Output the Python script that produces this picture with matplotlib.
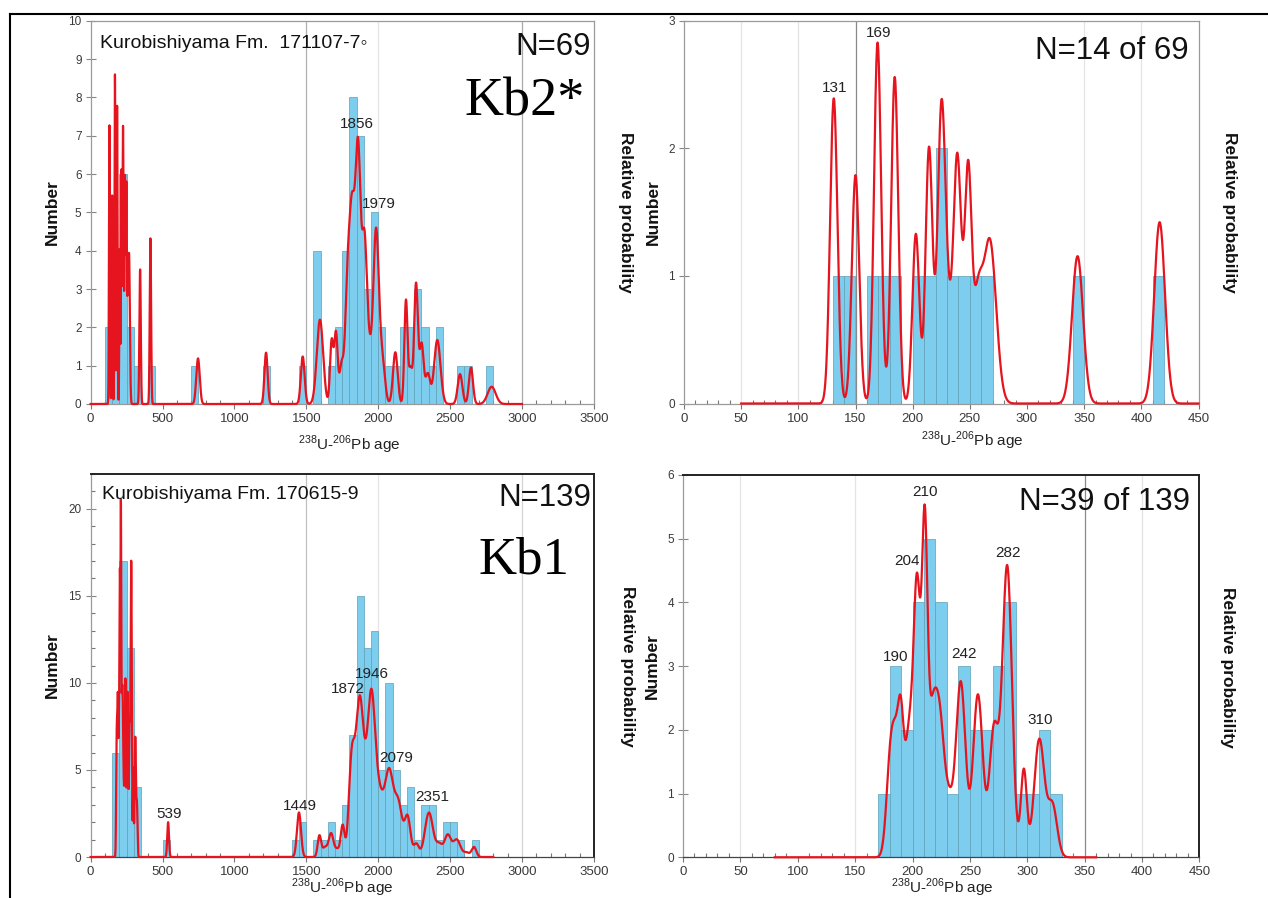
import numpy as np
import matplotlib
matplotlib.use("Agg")
import matplotlib.pyplot as plt
from matplotlib.ticker import MultipleLocator
from matplotlib.lines import Line2D

plt.rcParams['font.family'] = ['Liberation Sans', 'DejaVu Sans']
plt.rcParams['mathtext.fontset'] = 'custom'
plt.rcParams['mathtext.rm'] = 'Liberation Sans'

# ---------------- DATA ----------------
# Sample 171107-7 (Kb2*) : histogram, 50 Ma bins
kb2_bin_left = [100, 150, 200, 250, 300, 400, 700, 1200, 1450, 1550, 1650, 1700,
                1750, 1800, 1850, 1900, 1950, 2000, 2050, 2100, 2150, 2200, 2250,
                2300, 2350, 2400, 2550, 2600, 2750]
kb2_counts = [2, 2, 6, 2, 1, 1, 1, 1, 1, 4, 1, 2, 4, 8, 7, 3, 5, 2, 1, 1, 2, 2, 3,
              2, 1, 2, 1, 1, 1]
# young grains, 10 Ma bins
kb2_young_bin_left = [130, 140, 160, 170, 180, 200, 210, 220, 230, 240, 250, 260, 340, 410]
kb2_young_counts = [1, 1, 1, 1, 1, 1, 1, 2, 1, 1, 1, 1, 1, 1]
# probability density components (age, width, height)
kb2_pdp_age = [131, 150, 169.3, 184.3, 202.8, 214.3, 225.2, 231, 239, 248.5, 257, 267.5,
               344.2, 416, 747, 1220, 1475, 1595, 1676, 1706, 1745, 1785, 1818, 1860,
               1905, 1940, 1985, 2030, 2119, 2193, 2225, 2263, 2302, 2345, 2411, 2569,
               2645, 2789]
kb2_pdp_sigma = [3.2, 3.2, 3.1, 3.1, 3.0, 3.0, 3.4, 3.0, 3.5, 3.0, 4.0, 5.5,
                 4.8, 4.7, 12, 11, 13, 22, 11, 12, 14, 16, 19, 18,
                 18, 15, 20, 18, 16, 11, 12, 13, 14, 16, 22, 16,
                 14, 28]
kb2_pdp_height = [7.27, 5.44, 8.6, 7.78, 4.04, 6.08, 7.02, 1.37, 5.9, 5.41, 2.28, 3.86,
                  3.51, 4.32, 1.19, 1.34, 1.24, 2.2, 1.62, 1.85, 1.0, 2.6, 4.8, 6.35,
                  4.2, 0.9, 4.55, 1.0, 1.35, 2.7, 0.9, 3.13, 1.55, 0.78, 1.67, 0.78,
                  0.95, 0.45]
kb2_peak_labels = ["1856", "1979"]
kb2_young_peak_labels = ["131", "169"]

# Sample 170615-9 (Kb1) : histogram, 50 Ma bins
kb1_bin_left = [150, 200, 250, 300, 500, 1400, 1450, 1550, 1600, 1650, 1700, 1750,
                1800, 1850, 1900, 1950, 2000, 2050, 2100, 2150, 2200, 2250, 2300,
                2350, 2400, 2450, 2500, 2550, 2650]
kb1_counts = [6, 17, 12, 4, 1, 1, 2, 1, 1, 2, 1, 3, 7, 15, 12, 13, 5, 10, 5, 3, 4, 1,
              3, 3, 1, 2, 2, 1, 1]
kb1_young_bin_left = [170, 180, 190, 200, 210, 220, 230, 240, 250, 260, 270, 280,
                      290, 300, 310, 320]
kb1_young_counts = [1, 3, 2, 4, 5, 4, 1, 3, 2, 2, 3, 4, 1, 1, 2, 1]
kb1_pdp_age = [181, 186, 190, 197, 204, 210.6, 217, 224, 232, 242, 257, 271, 282.5,
               297, 310.5, 322, 539, 1449, 1591, 1630, 1672, 1715, 1753, 1815, 1872,
               1915, 1950, 2005, 2077, 2140, 2205, 2265, 2353, 2425, 2483, 2546,
               2615, 2666]
kb1_pdp_sigma = [3.5, 3.0, 2.5, 3.5, 3.0, 2.4, 4.0, 4.0, 3.5, 4.2, 4.2, 4.0, 4.2,
                 2.6, 4.5, 4.0, 6, 14, 12, 18, 16, 20, 13, 20, 28,
                 15, 26, 35, 28, 28, 20, 18, 28, 22, 22, 26,
                 20, 16]
kb1_pdp_height = [5.94, 4.45, 6.31, 7.05, 15.2, 17.1, 7.42, 7.05, 2.6, 10.2, 9.46,
                  7.42, 16.9, 5.05, 6.86, 2.97, 2.0, 2.56, 1.2, 0.55, 1.3, 0.45, 1.75,
                  5.1, 9.1, 0.55, 8.4, 3.5, 4.45, 3.0, 2.2, 0.75, 2.55, 0.7, 1.23,
                  1.0, 0.25, 0.57]
kb1_peak_labels = ["539", "1449", "1872", "1946", "2079", "2351"]
kb1_young_peak_labels = ["190", "204", "210", "242", "282", "310"]

# ---------------- STYLE / LAYOUT ----------------
W, H = 1268, 898
BAR = '#7DCDEF'
BAR_EDGE = '#5E9FB6'
RED = '#E6141E'
TICK_COL = '#3a3a3a'

fig = plt.figure(figsize=(W / 100, H / 100), dpi=100)


def fx(px):
    return px / W


def fy(py):
    return 1 - py / H


def pdp(x, ages, sig, hts):
    a = np.asarray(ages)[:, None]
    s = np.asarray(sig)[:, None]
    h = np.asarray(hts)[:, None]
    return (h * np.exp(-0.5 * ((x[None, :] - a) / s) ** 2)).sum(axis=0)


def panel(rect_px, xlim, ylim, prob_top, bins, counts, bw, comps, crange,
          xmaj, xmin, ymaj, ymin, grids, dark_frame, labels):
    l, t, r, b = rect_px
    ax = fig.add_axes([fx(l), fy(b), fx(r - l), (b - t) / H])
    ax.set_xlim(*xlim)
    ax.set_ylim(*ylim)
    for gx, gc in grids:
        ax.axvline(gx, color=gc, lw=0.9, zorder=0)
    ax.bar(bins, counts, width=bw, align='edge', color=BAR, edgecolor=BAR_EDGE,
           linewidth=0.5, zorder=2)
    ax.xaxis.set_major_locator(MultipleLocator(xmaj))
    ax.xaxis.set_minor_locator(MultipleLocator(xmin))
    ax.yaxis.set_major_locator(MultipleLocator(ymaj))
    if ymin:
        ax.yaxis.set_minor_locator(MultipleLocator(ymin))
        ax.tick_params(axis='y', which='minor', direction='in', length=3,
                       color='#777777', width=0.8)
    ax.tick_params(axis='x', which='major', direction='out', length=3.5, width=0.8,
                   color='#777777', labelsize=9.5, labelcolor=TICK_COL, pad=3)
    ax.tick_params(axis='x', which='minor', direction='in', length=3, width=0.8,
                   color='#777777')
    ax.tick_params(axis='y', which='major', direction='inout', length=7, width=0.8,
                   color='#888888', labelsize=8.5, labelcolor=TICK_COL, pad=3)
    for side in ['left', 'bottom', 'top', 'right']:
        ax.spines[side].set_color('#9a9a9a')
        ax.spines[side].set_linewidth(0.9)
    if dark_frame:
        for side in ['top', 'right']:
            ax.spines[side].set_color('#222222')
            ax.spines[side].set_linewidth(1.4)
        ax.spines['bottom'].set_color('#444444')
    ax2 = ax.twinx()
    ax2.set_ylim(0, prob_top)
    ax2.set_yticks([])
    for side in ['left', 'bottom', 'top', 'right']:
        ax2.spines[side].set_visible(False)
    xs = np.arange(crange[0], crange[1] + 0.01, 0.25)
    ys = pdp(xs, *comps)
    ax2.plot(xs, ys, color=RED, lw=1.6, clip_on=False, zorder=3,
             solid_joinstyle='round')
    for txt, lx, ly in labels:
        ax.text(lx, ly, txt, ha='center', va='center', fontsize=11,
                color='#222222', zorder=5)
    return ax


kb2_comps = (kb2_pdp_age, kb2_pdp_sigma, kb2_pdp_height)
kb1_comps = (kb1_pdp_age, kb1_pdp_sigma, kb1_pdp_height)

# top-left
panel((90.6, 20.7, 593.9, 404), (0, 3500), (0, 10), 10,
      kb2_bin_left, kb2_counts, 50, kb2_comps, (0, 3000),
      500, 100, 1, None,
      [(1500, '#b0b0b0'), (2000, '#e4e4e4'), (3000, '#a8a8a8')], False,
      [(kb2_peak_labels[0], 1852, 7.30), (kb2_peak_labels[1], 2005, 5.21)])
# top-right
panel((684, 20.7, 1198.5, 403.5), (0, 450), (0, 3), 3 * 3.04,
      kb2_young_bin_left, kb2_young_counts, 10, kb2_comps, (50, 450),
      50, 10, 1, None,
      [(50, '#e4e4e4'), (100, '#e4e4e4'), (150, '#8a8a8a'), (350, '#e4e4e4'),
       (400, '#e4e4e4')], False,
      [(kb2_young_peak_labels[0], 132, 2.47), (kb2_young_peak_labels[1], 170.6, 2.90)])
# bottom-left
panel((90.6, 474, 593.9, 857), (0, 3500), (0, 22), 22,
      kb1_bin_left, kb1_counts, 50, kb1_comps, (0, 2800),
      500, 100, 5, 1,
      [(1500, '#c0c0c0'), (2000, '#e4e4e4'), (3000, '#d4d4d4')], True,
      [(kb1_peak_labels[0], 549, 2.47), (kb1_peak_labels[1], 1453, 2.93),
       (kb1_peak_labels[2], 1790, 9.65), (kb1_peak_labels[3], 1957, 10.51),
       (kb1_peak_labels[4], 2127, 5.69), (kb1_peak_labels[5], 2378, 3.45)])
# bottom-right
panel((683, 475, 1199.4, 857.3), (0, 450), (0, 6), 6 * 3.71,
      kb1_young_bin_left, kb1_young_counts, 10, kb1_comps, (80, 360),
      50, 10, 1, None,
      [(50, '#e4e4e4'), (150, '#e4e4e4'), (350, '#8a8a8a'), (400, '#e4e4e4')], True,
      [(kb1_young_peak_labels[0], 185.6, 3.14), (kb1_young_peak_labels[1], 195.2, 4.65),
       (kb1_young_peak_labels[2], 210.9, 5.73), (kb1_young_peak_labels[3], 244.9, 3.19),
       (kb1_young_peak_labels[4], 283.2, 4.78), (kb1_young_peak_labels[5], 311, 2.16)])

# ---------------- TEXT ----------------
xlab = r'$^{238}$U-$^{206}$Pb age'
for (px, py) in [(349, 445), (972, 441), (342, 888), (942, 888)]:
    fig.text(fx(px), fy(py), xlab, ha='center', va='center', fontsize=11, color='#222222')
for (px, py) in [(52, 212), (653, 212), (52, 665), (652, 666)]:
    fig.text(fx(px), fy(py), 'Number', rotation=90, ha='center', va='center',
             fontsize=12.5, fontweight='bold', color='#111111')
for (px, py) in [(626, 212), (1229, 212), (627, 666), (1228, 667)]:
    fig.text(fx(px), fy(py), 'Relative probability', rotation=-90, ha='center',
             va='center', fontsize=12.5, fontweight='bold', color='#111111')

fig.text(fx(100), fy(47.7), 'Kurobishiyama Fm.  171107-7\u25e6', ha='left', va='baseline',
         fontsize=14, color='#111111')
fig.text(fx(102), fy(499.3), 'Kurobishiyama Fm. 170615-9', ha='left', va='baseline',
         fontsize=14, color='#111111')
fig.text(fx(591), fy(55), 'N=69', ha='right', va='baseline', fontsize=22.5, color='#111111')
fig.text(fx(1189), fy(59), 'N=14 of 69', ha='right', va='baseline', fontsize=22.5,
         color='#111111')
fig.text(fx(591), fy(506.5), 'N=139', ha='right', va='baseline', fontsize=22.5,
         color='#111111')
fig.text(fx(1190), fy(510), 'N=39 of 139', ha='right', va='baseline', fontsize=22.5,
         color='#111111')
fig.text(fx(524.5), fy(115), 'Kb2*', ha='center', va='baseline', fontsize=39,
         family=['Liberation Serif', 'DejaVu Serif'], color='#000000')
fig.text(fx(524), fy(573), 'Kb1', ha='center', va='baseline', fontsize=38,
         family=['Liberation Serif', 'DejaVu Serif'], color='#000000')

# outer frame lines
fig.add_artist(Line2D([fx(9.5), fx(9.5)], [0, fy(13.5)], color='black', lw=1.5))
fig.add_artist(Line2D([fx(9.5), 1], [fy(13.5), fy(13.5)], color='black', lw=1.5))

fig.savefig('out.png', dpi=100)
